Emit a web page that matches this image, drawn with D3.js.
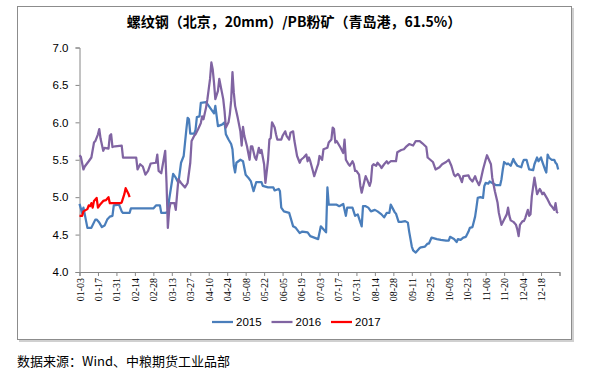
<!DOCTYPE html>
<html>
<head>
<meta charset="utf-8">
<script src="https://cdn.jsdelivr.net/npm/d3@7"></script>
<style>
  body { margin: 0; background: #fff; }
  svg { display: block; }
</style>
</head>
<body>
<svg id="chart"></svg>
<script>
// tick labels on the date axis (every 14 days)
var tickLabels = ["01-03","01-17","01-31","02-14","02-28","03-13","03-27","04-10","04-24","05-08","05-22","06-05","06-19",
  "07-03","07-17","07-31","08-14","08-28","09-11","09-25","10-09","10-23","11-06","11-20","12-04","12-18"];
var yTicks = [4.0, 4.5, 5.0, 5.5, 6.0, 6.5, 7.0];

// 2015
var dates2015 = ["01-03","01-05","01-06","01-09","01-12","01-15","01-16","01-18","01-20","01-22","01-24","01-26","01-28","01-29",
  "02-02","02-04","02-05","02-10","02-11","02-28","03-01","03-04","03-05","03-08","03-10","03-11","03-14","03-16","03-18","03-20",
  "03-22","03-24","03-25","03-26","03-27","03-30","03-31","04-01","04-03","04-04","04-08","04-10","04-12","04-14","04-15","04-17",
  "04-20","04-22","04-23","04-25","04-27","04-28","04-29","04-30","05-01","05-04","05-06","05-08","05-10","05-12","05-14","05-16",
  "05-20","05-21","05-25","05-29","05-30","06-02","06-03","06-04","06-06","06-10","06-13","06-15","06-18","06-20","06-24","06-26",
  "06-29","07-02","07-04","07-06","07-08","07-09","07-10","07-16","07-18","07-21","07-23","07-24","07-28","07-30","08-01","08-04",
  "08-05","08-07","08-09","08-11","08-14","08-16","08-19","08-21","08-23","08-25","08-26","08-29","08-30","09-01","09-03","09-06",
  "09-08","09-09","09-11","09-12","09-14","09-17","09-18","09-21","09-23","09-24","09-26","09-30","10-03","10-07","10-09","10-10",
  "10-13","10-15","10-16","10-18","10-20","10-22","10-24","10-25","10-27","10-29","10-30","10-31","11-02","11-04","11-05","11-06",
  "11-08","11-09","11-12","11-14","11-17","11-18","11-19","11-20","11-22","11-23","11-25","11-27","11-28","11-30","12-03","12-04",
  "12-05","12-07","12-09","12-12","12-13","12-15","12-16","12-18","12-19","12-21","12-22","12-23","12-24","12-26","12-28","12-29",
  "12-30","12-31"];
var values2015 = [4.91,4.79,4.86,4.59,4.59,4.70,4.70,4.66,4.60,4.62,4.70,4.74,4.75,4.89,
  4.90,4.81,4.79,4.79,4.85,4.85,4.89,4.89,4.79,4.79,4.80,4.97,5.31,5.26,5.19,5.46,
  5.55,5.90,6.06,6.04,5.85,5.85,5.90,6.07,6.08,6.26,6.27,6.22,6.17,6.12,6.22,5.95,
  5.97,6.00,5.84,5.77,5.71,5.64,5.42,5.33,5.46,5.50,5.48,5.30,5.26,5.21,5.08,5.20,
  5.20,5.15,5.13,5.13,5.09,5.11,5.08,4.86,4.81,4.79,4.61,4.59,4.52,4.54,4.53,4.48,
  4.46,4.44,4.61,4.57,4.53,5.13,4.90,4.90,4.88,4.91,4.75,4.86,4.86,4.75,4.77,4.61,
  4.88,4.88,4.86,4.81,4.83,4.81,4.77,4.73,4.79,4.79,4.90,4.80,4.78,4.67,4.67,4.68,
  4.66,4.54,4.34,4.29,4.26,4.32,4.33,4.34,4.38,4.38,4.46,4.44,4.43,4.42,4.42,4.47,
  4.44,4.40,4.44,4.43,4.46,4.47,4.54,4.59,4.60,4.74,4.86,4.99,5.00,4.99,5.15,5.19,
  5.18,5.21,5.18,5.16,5.16,5.24,5.37,5.47,5.44,5.45,5.42,5.51,5.47,5.42,5.40,5.46,
  5.50,5.50,5.37,5.36,5.44,5.53,5.48,5.53,5.47,5.37,5.33,5.57,5.53,5.50,5.50,5.46,
  5.44,5.37];

// 2016
var dates2016 = ["01-03","01-04","01-06","01-07","01-10","01-12","01-14","01-15","01-17","01-18","01-19","01-21","01-22","01-25",
  "01-26","01-27","01-28","01-30","02-04","02-05","02-15","02-16","02-18","02-20","02-22","02-24","02-26","03-01","03-02","03-03",
  "03-05","03-08","03-09","03-10","03-11","03-12","03-15","03-16","03-18","03-20","03-23","03-25","03-27","03-28","03-30","03-31",
  "04-02","04-04","04-05","04-06","04-08","04-09","04-11","04-12","04-13","04-14","04-15","04-17","04-18","04-20","04-21","04-22",
  "04-23","04-25","04-26","04-27","04-28","04-29","04-30","05-02","05-04","05-05","05-06","05-07","05-09","05-11","05-12","05-13",
  "05-15","05-16","05-18","05-19","05-20","05-22","05-23","05-25","05-26","05-27","05-28","05-30","05-31","06-01","06-04","06-05",
  "06-07","06-08","06-10","06-11","06-13","06-14","06-16","06-18","06-19","06-21","06-23","06-24","06-25","06-26","06-28","06-29",
  "07-01","07-02","07-03","07-05","07-06","07-09","07-10","07-12","07-13","07-14","07-15","07-16","07-18","07-19","07-21","07-22",
  "07-23","07-25","07-26","07-28","07-29","07-30","07-31","08-02","08-03","08-04","08-06","08-07","08-08","08-10","08-11","08-12",
  "08-13","08-15","08-16","08-18","08-19","08-21","08-23","08-24","08-26","08-30","08-31","09-03","09-05","09-07","09-09","09-12",
  "09-14","09-17","09-19","09-22","09-23","09-25","09-27","09-29","10-02","10-04","10-07","10-09","10-11","10-13","10-14","10-16",
  "10-17","10-19","10-20","10-24","10-25","10-27","10-29","10-30","11-01","11-02","11-04","11-06","11-07","11-09","11-10","11-11",
  "11-13","11-15","11-16","11-18","11-20","11-22","11-23","11-24","11-25","11-27","11-29","11-30","12-01","12-02","12-04","12-05",
  "12-06","12-08","12-09","12-10","12-11","12-13","12-14","12-15","12-17","12-18","12-19","12-20","12-22","12-23","12-25","12-26",
  "12-28","12-29","12-30","12-31"];
var values2016 = [5.56,5.54,5.37,5.41,5.48,5.53,5.73,5.75,5.84,5.91,5.78,5.62,5.66,5.65,
  5.82,5.84,5.67,5.68,5.69,5.53,5.53,5.37,5.44,5.41,5.30,5.35,5.45,5.46,5.57,5.35,
  5.32,5.62,5.19,4.59,4.83,4.92,4.92,4.83,5.24,5.19,5.13,5.19,5.46,5.75,5.82,5.84,
  5.91,5.99,6.08,6.04,6.20,6.31,6.58,6.80,6.71,6.53,6.31,6.42,6.58,6.40,6.31,6.15,
  5.93,6.00,6.11,6.29,6.67,6.40,6.22,6.06,5.88,5.69,5.94,5.82,5.68,5.50,5.68,5.68,
  5.53,5.50,5.66,5.59,5.63,5.44,5.19,5.50,5.77,5.79,6.00,5.93,5.84,5.77,5.77,5.82,
  5.88,5.82,5.77,5.86,5.88,5.75,5.55,5.46,5.50,5.53,5.57,5.48,5.53,5.48,5.35,5.28,
  5.39,5.44,5.55,5.50,5.64,5.66,5.73,5.77,5.93,5.91,5.73,5.75,5.69,5.66,5.59,5.77,
  5.50,5.44,5.42,5.48,5.44,5.35,5.35,5.30,5.15,5.06,5.21,5.28,5.24,5.15,5.21,5.42,
  5.44,5.42,5.46,5.42,5.39,5.44,5.48,5.45,5.48,5.48,5.60,5.63,5.64,5.68,5.71,5.69,
  5.75,5.75,5.72,5.67,5.53,5.50,5.47,5.37,5.40,5.44,5.47,5.50,5.42,5.30,5.28,5.31,
  5.29,5.20,5.28,5.29,5.25,5.21,5.28,5.23,5.16,5.21,5.37,5.50,5.56,5.48,5.44,5.26,
  5.08,4.93,4.79,4.63,4.70,4.77,4.86,4.75,4.69,4.67,4.63,4.57,4.48,4.63,4.68,4.68,
  4.72,4.83,4.75,4.77,5.01,5.26,5.15,5.04,5.11,5.08,5.04,5.06,5.00,4.97,4.90,4.88,
  4.83,4.92,4.80,4.79];

// 2017
var dates2017 = ["01-03","01-05","01-06","01-09","01-10","01-11","01-12","01-13","01-14","01-16","01-17","01-19","01-21","01-23",
  "01-25","01-26","02-03","02-04","02-06","02-07","02-09","02-10"];
var values2017 = [4.75,4.75,4.81,4.84,4.89,4.88,4.92,4.86,4.95,4.99,4.86,4.91,4.95,4.96,
  5.00,4.92,4.92,4.93,5.04,5.12,5.05,5.00];

var seriesNames = ["2015", "2016", "2017"];
var seriesColors = ["#4a7ebb", "#8064a2", "#ff0000"];

var W = 597, H = 382;
var margin = { top: 47.5, right: 37.5, bottom: 110, left: 79.5 };

var svg = d3.select("#chart").attr("width", W).attr("height", H);
svg.append("rect").attr("width", W).attr("height", H).attr("fill", "#fff");

// chart frame with a light shadow
svg.append("path")
    .attr("d", "M573,8V341H19")
    .attr("fill", "none").attr("stroke", "#d0d0d0").attr("stroke-width", 2);
svg.append("rect")
    .attr("x", 17.5).attr("y", 6.5).attr("width", 554).attr("height", 333)
    .attr("fill", "none").attr("stroke", "#8c8c8c");

svg.append("text")
    .attr("x", 294).attr("y", 27)
    .attr("text-anchor", "middle")
    .style("font-family", "'Noto Sans CJK SC', sans-serif")
    .style("font-size", "14px").style("font-weight", "bold")
    .text("螺纹钢（北京，20mm）/PB粉矿（青岛港，61.5%）");

var parseDay = d3.timeParse("%Y-%m-%d");
function toDate(md) { return parseDay("2016-" + md); }

var x = d3.scaleTime()
    .domain([toDate("01-03"), parseDay("2017-01-01")])
    .range([margin.left, W - margin.right]);
var y = d3.scaleLinear()
    .domain([4, 7])
    .range([H - margin.bottom, margin.top]);

// y axis
var yAxis = svg.append("g")
    .attr("transform", "translate(" + margin.left + ",0)")
    .call(d3.axisLeft(y).tickValues(yTicks).tickFormat(d3.format(".1f")).tickSize(4).tickPadding(7));
yAxis.select(".domain").attr("stroke", "#868686");
yAxis.selectAll(".tick line").attr("stroke", "#868686");
yAxis.selectAll("text")
    .style("font-family", "'Liberation Sans', Arial, sans-serif")
    .style("font-size", "11.5px").attr("fill", "#000");

// x axis
var xTickDates = tickLabels.map(toDate).concat([x.domain()[1]]);
var xAxis = svg.append("g")
    .attr("transform", "translate(0," + (H - margin.bottom) + ")")
    .call(d3.axisBottom(x).tickValues(xTickDates).tickSizeOuter(0).tickSize(4)
        .tickFormat(function(d, i) { return i < tickLabels.length ? d3.timeFormat("%m-%d")(d) : ""; }));
xAxis.select(".domain").attr("stroke", "#868686");
xAxis.selectAll(".tick line").attr("stroke", "#868686");
xAxis.selectAll("text")
    .attr("transform", "rotate(-90)")
    .attr("text-anchor", "end")
    .attr("x", -6).attr("y", 0).attr("dy", "0.35em")
    .style("font-family", "'Liberation Serif', serif")
    .style("font-size", "10px").attr("fill", "#000");

// lines
var line = d3.line()
    .x(function(d) { return x(d[0]); })
    .y(function(d) { return y(d[1]); });

var seriesData = [
    d3.zip(dates2015.map(toDate), values2015),
    d3.zip(dates2016.map(toDate), values2016),
    d3.zip(dates2017.map(toDate), values2017)
];

seriesData.forEach(function(data, i) {
    svg.append("path")
        .datum(data)
        .attr("fill", "none")
        .attr("stroke", seriesColors[i])
        .attr("stroke-width", 2.25)
        .attr("stroke-linejoin", "round")
        .attr("d", line);
});

// legend
var legend = svg.append("g").attr("transform", "translate(212,322)");
seriesNames.forEach(function(name, i) {
    var g = legend.append("g").attr("transform", "translate(" + (i * 59.5) + ",0)");
    g.append("line").attr("x1", 0).attr("x2", 21).attr("y1", 0).attr("y2", 0)
        .attr("stroke", seriesColors[i]).attr("stroke-width", 2.25);
    g.append("text").attr("x", 24).attr("y", 0).attr("dy", "0.35em")
        .style("font-family", "'Liberation Sans', Arial, sans-serif")
        .style("font-size", "11.5px")
        .text(name);
});

svg.append("text")
    .attr("x", 17).attr("y", 366)
    .style("font-family", "'Noto Sans CJK SC', sans-serif")
    .style("font-size", "13px")
    .text("数据来源：Wind、中粮期货工业品部");
</script>
</body>
</html>
